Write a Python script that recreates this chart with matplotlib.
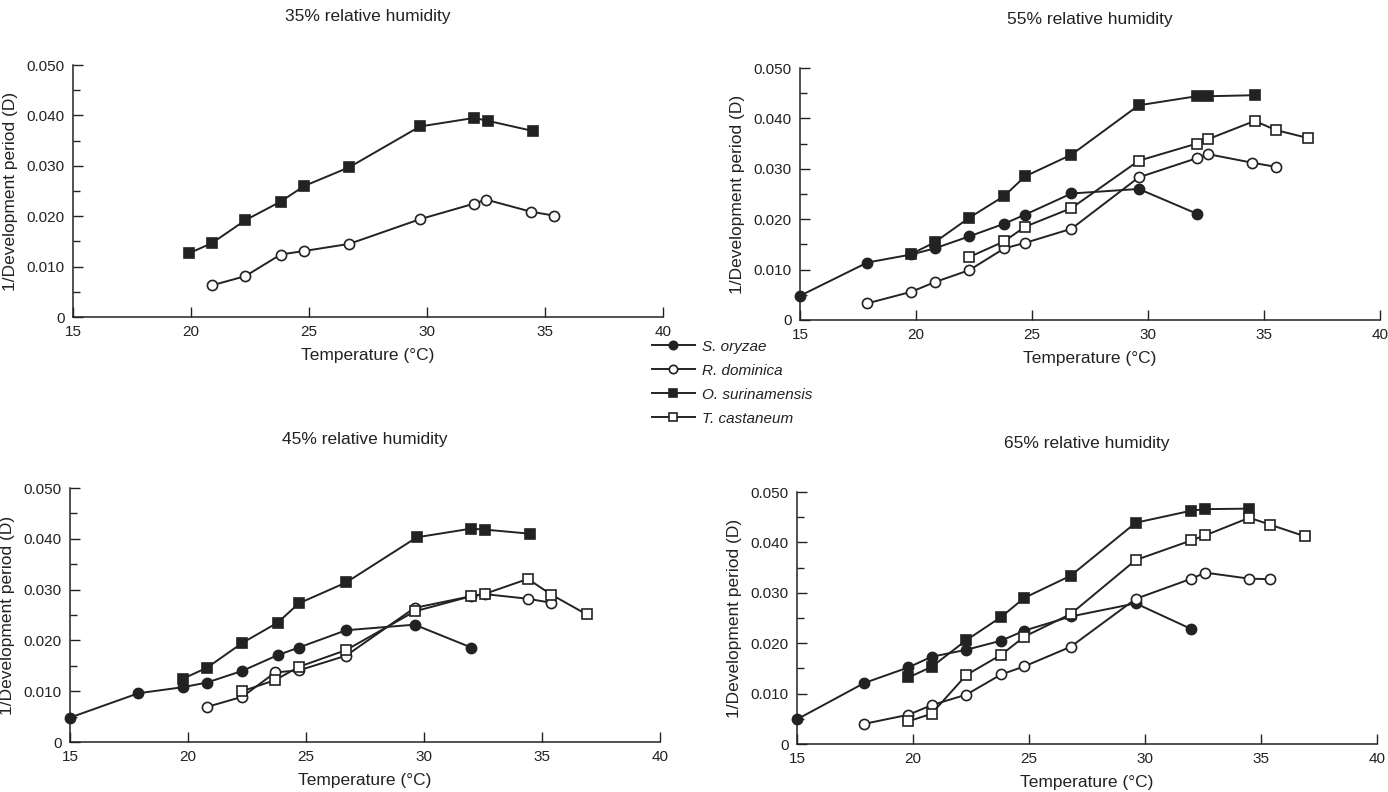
import matplotlib
matplotlib.use('Agg')
import matplotlib.pyplot as plt
from matplotlib.ticker import MultipleLocator

plt.rcParams['font.family'] = ['Liberation Sans', 'DejaVu Sans']

species = ['S. oryzae', 'R. dominica', 'O. surinamensis', 'T. castaneum']
titles = ['35% relative humidity', '55% relative humidity',
          '45% relative humidity', '65% relative humidity']

# 35% RH
rh35_osur_x = [19.9, 20.9, 22.3, 23.8, 24.8, 26.7, 29.7, 32.0, 32.6, 34.5]
rh35_osur_y = [0.0126, 0.0147, 0.0192, 0.0229, 0.0260, 0.0297, 0.0378, 0.0395, 0.0389, 0.0369]
rh35_rdom_x = [20.9, 22.3, 23.8, 24.8, 26.7, 29.7, 32.0, 32.5, 34.4, 35.4]
rh35_rdom_y = [0.0063, 0.0081, 0.0124, 0.0131, 0.0145, 0.0194, 0.0225, 0.0233, 0.0209, 0.0201]

# 55% RH
rh55_sory_x = [15.0, 17.9, 19.8, 20.8, 22.3, 23.8, 24.7, 26.7, 29.6, 32.1]
rh55_sory_y = [0.0048, 0.0114, 0.0130, 0.0142, 0.0166, 0.0191, 0.0209, 0.0251, 0.0260, 0.0211]
rh55_rdom_x = [17.9, 19.8, 20.8, 22.3, 23.8, 24.7, 26.7, 29.6, 32.1, 32.6, 34.5, 35.5]
rh55_rdom_y = [0.0033, 0.0056, 0.0075, 0.0099, 0.0142, 0.0153, 0.0181, 0.0283, 0.0321, 0.0329, 0.0312, 0.0304]
rh55_osur_x = [19.8, 20.8, 22.3, 23.8, 24.7, 26.7, 29.6, 32.1, 32.6, 34.6]
rh55_osur_y = [0.0131, 0.0154, 0.0203, 0.0246, 0.0285, 0.0328, 0.0426, 0.0444, 0.0444, 0.0446]
rh55_tcas_x = [22.3, 23.8, 24.7, 26.7, 29.6, 32.1, 32.6, 34.6, 35.5, 36.9]
rh55_tcas_y = [0.0125, 0.0156, 0.0185, 0.0222, 0.0316, 0.0350, 0.0359, 0.0395, 0.0377, 0.0361]

# 45% RH
rh45_sory_x = [15.0, 17.9, 19.8, 20.8, 22.3, 23.8, 24.7, 26.7, 29.6, 32.0]
rh45_sory_y = [0.0048, 0.0096, 0.0108, 0.0117, 0.0140, 0.0171, 0.0186, 0.0220, 0.0231, 0.0186]
rh45_rdom_x = [20.8, 22.3, 23.7, 24.7, 26.7, 29.6, 32.0, 32.6, 34.4, 35.4]
rh45_rdom_y = [0.0069, 0.0089, 0.0137, 0.0141, 0.0170, 0.0264, 0.0287, 0.0291, 0.0282, 0.0274]
rh45_osur_x = [19.8, 20.8, 22.3, 23.8, 24.7, 26.7, 29.7, 32.0, 32.6, 34.5]
rh45_osur_y = [0.0125, 0.0146, 0.0195, 0.0235, 0.0273, 0.0314, 0.0403, 0.0420, 0.0418, 0.0410]
rh45_tcas_x = [22.3, 23.7, 24.7, 26.7, 29.6, 32.0, 32.6, 34.4, 35.4, 36.9]
rh45_tcas_y = [0.0100, 0.0122, 0.0148, 0.0181, 0.0257, 0.0287, 0.0292, 0.0321, 0.0290, 0.0251]

# 65% RH
rh65_sory_x = [15.0, 17.9, 19.8, 20.8, 22.3, 23.8, 24.8, 26.8, 29.6, 32.0]
rh65_sory_y = [0.0049, 0.0121, 0.0152, 0.0173, 0.0187, 0.0205, 0.0225, 0.0253, 0.0279, 0.0228]
rh65_rdom_x = [17.9, 19.8, 20.8, 22.3, 23.8, 24.8, 26.8, 29.6, 32.0, 32.6, 34.5, 35.4]
rh65_rdom_y = [0.0040, 0.0058, 0.0077, 0.0098, 0.0138, 0.0154, 0.0193, 0.0288, 0.0328, 0.0340, 0.0328, 0.0327]
rh65_osur_x = [19.8, 20.8, 22.3, 23.8, 24.8, 26.8, 29.6, 32.0, 32.6, 34.5]
rh65_osur_y = [0.0132, 0.0153, 0.0206, 0.0252, 0.0290, 0.0334, 0.0439, 0.0463, 0.0466, 0.0467]
rh65_tcas_x = [19.8, 20.8, 22.3, 23.8, 24.8, 26.8, 29.6, 32.0, 32.6, 34.5, 35.4, 36.9]
rh65_tcas_y = [0.0045, 0.0060, 0.0137, 0.0177, 0.0213, 0.0258, 0.0365, 0.0404, 0.0414, 0.0449, 0.0435, 0.0412]

styles = {
    'S. oryzae': dict(marker='o', mfc='#222222'),
    'R. dominica': dict(marker='o', mfc='white'),
    'O. surinamensis': dict(marker='s', mfc='#222222'),
    'T. castaneum': dict(marker='s', mfc='white'),
}

panels = [
    [('O. surinamensis', rh35_osur_x, rh35_osur_y), ('R. dominica', rh35_rdom_x, rh35_rdom_y)],
    [('S. oryzae', rh55_sory_x, rh55_sory_y), ('R. dominica', rh55_rdom_x, rh55_rdom_y),
     ('O. surinamensis', rh55_osur_x, rh55_osur_y), ('T. castaneum', rh55_tcas_x, rh55_tcas_y)],
    [('S. oryzae', rh45_sory_x, rh45_sory_y), ('R. dominica', rh45_rdom_x, rh45_rdom_y),
     ('O. surinamensis', rh45_osur_x, rh45_osur_y), ('T. castaneum', rh45_tcas_x, rh45_tcas_y)],
    [('S. oryzae', rh65_sory_x, rh65_sory_y), ('R. dominica', rh65_rdom_x, rh65_rdom_y),
     ('O. surinamensis', rh65_osur_x, rh65_osur_y), ('T. castaneum', rh65_tcas_x, rh65_tcas_y)],
]

W, H = 1388, 792
# pixel boxes: left, right, top, bottom
boxes = [(73, 663, 65, 317), (800, 1380, 68, 320), (70, 660, 488, 742), (797, 1377, 492, 744)]

fig = plt.figure(figsize=(W / 100, H / 100), dpi=100)
ink = '#222222'

for (l, r, t, b), title, series in zip(boxes, titles, panels):
    ax = fig.add_axes([l / W, 1 - b / H, (r - l) / W, (b - t) / H])
    for name, xs, ys in series:
        st = styles[name]
        ax.plot(xs, ys, color=ink, lw=1.4, marker=st['marker'], ms=7.3,
                mfc=st['mfc'], mec=ink, mew=1.2, clip_on=False)
    ax.set_xlim(15, 40)
    ax.set_ylim(0, 0.050)
    ax.xaxis.set_major_locator(MultipleLocator(5))
    ax.yaxis.set_minor_locator(MultipleLocator(0.005))
    ax.set_yticks([0, 0.01, 0.02, 0.03, 0.04, 0.05])
    ax.set_yticklabels(['0', '0.010', '0.020', '0.030', '0.040', '0.050'])
    ax.tick_params(direction='in', length=7, width=1, colors=ink, labelsize=11, pad=6)
    ax.tick_params(which='minor', direction='in', length=5, width=1, colors=ink)
    ax.spines['top'].set_visible(False)
    ax.spines['right'].set_visible(False)
    for s in ('left', 'bottom'):
        ax.spines[s].set_color(ink)
        ax.spines[s].set_linewidth(1.1)
    ax.set_xlabel('Temperature (°C)', fontsize=12.5, color=ink, labelpad=6)
    ax.set_ylabel('1/Development period (D)', fontsize=12.5, color=ink, labelpad=6)
    ax.set_title(title, fontsize=12.5, color=ink, pad=32)

# shared legend in the middle of the figure
handles = []
for name in species:
    st = styles[name]
    h, = plt.plot([], [], color=ink, lw=1.4, marker=st['marker'], ms=6,
                  mfc=st['mfc'], mec=ink, mew=1.2)
    handles.append(h)
leg = fig.legend(handles, species, loc='upper left', bbox_to_anchor=(638 / W, 1 - 326 / H),
                 frameon=False, fontsize=11, handlelength=2.8, labelspacing=0.65,
                 handletextpad=0.5)
for txt in leg.get_texts():
    txt.set_fontstyle('italic')
    txt.set_color(ink)

fig.savefig('out.png', dpi=100)
